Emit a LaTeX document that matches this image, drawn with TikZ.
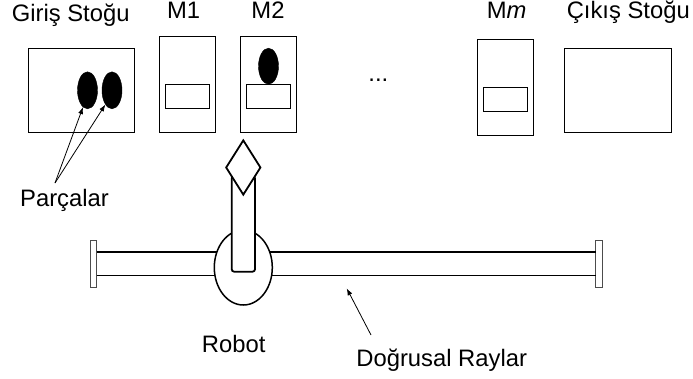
\documentclass[tikz,border=0pt]{standalone}
\usepackage{fontspec}
\setmainfont{Liberation Sans}
\usetikzlibrary{shapes.geometric,arrows.meta}
\begin{document}
\begin{tikzpicture}[x=1pt,y=-1pt,
  lbl/.style={font=\fontsize{23.8}{28}\selectfont, inner sep=0pt, anchor=base},
  station/.style={draw, line width=0.9pt, fill=white},
  slot/.style={draw, line width=0.9pt},
  part/.style={ellipse, fill=black, draw=black, inner sep=0pt, minimum width=20pt, minimum height=37pt},
  pointer/.style={line width=0.8pt, -{Latex[length=7pt,width=5pt]}},
  thick2/.style={line width=1.8pt}]
\useasboundingbox (0,0) rectangle (693,378);

% labels above the stations
\node[lbl] (tin)  at (70.7,21.5) {Giriş Stoğu};
\node[lbl] (tm1)  at (183.7,18.5) {M1};
\node[lbl] (tm2)  at (268,18.5) {M2};
\node[lbl] (tmm)  at (506.7,18.5) {M\textit{m}};
\node[lbl] (tout) at (628.3,18.5) {Çıkış Stoğu};
\node[lbl] (dots) at (378.3,81.5) {...};

% input store with two parts
\draw[station] (28,48) rectangle (134,132);
\node[part] (p1) at (87.5,90.3) {};
\node[part] (p2) at (112,90.3) {};

% machines
\draw[station] (159,36) rectangle (215,132);
\draw[slot] (165,84) rectangle (209,108);
\draw[station] (240,36) rectangle (296,132);
\draw[slot] (246,84) rectangle (290,108);
\node[part, minimum height=36pt] (p3) at (268.5,66.2) {};
\draw[station] (477.3,39.3) rectangle (533.7,135.3);
\draw[slot] (483.3,87.3) rectangle (527.7,111.3);

% output store
\draw[station] (564.3,48.3) rectangle (671,132.3);

% parts label with pointers
\node[lbl] (parc) at (64.5,206.7) {Parçalar};
\coordinate (fork) at (55,183);
\draw[pointer] (fork) -- (p1.255);
\draw[pointer] (fork) -- (p2.245);

% linear rails
\draw[line width=0.6pt, draw=black!70, fill=white] (90,240) rectangle (96.7,287.7);
\draw[line width=0.6pt, draw=black!70, fill=white] (595.7,240) rectangle (602.3,287.7);
\coordinate (rl1) at (96.7,251.7);
\coordinate (rr1) at (595.7,251.7);
\coordinate (rl2) at (96.7,275.7);
\coordinate (rr2) at (595.7,275.7);
\draw[line width=1.6pt] (rl1) -- (rr1);
\draw[line width=0.9pt] (rl2) -- (rr2);

% robot: carriage, arm and gripper
\node[ellipse, draw, line width=1.5pt, fill=white, inner sep=0pt,
      minimum width=58pt, minimum height=75pt] (base) at (243.3,267.5) {};
\draw[thick2, fill=white, rounded corners=2.5pt] (231.7,176) rectangle (255,271.7);
\node[diamond, draw, thick2, fill=white, inner sep=0pt, aspect=0.64,
      minimum width=35pt, minimum height=55pt] (grip) at (243.3,167.5) {};

\node[lbl] (robot) at (233.7,352.3) {Robot};

% rail label with pointer
\node[lbl] (rails) at (441.7,366.7) {Doğrusal Raylar};
\coordinate (rp) at (371,335);
\coordinate (rt) at (346.7,288.3);
\draw[pointer] (rp) -- (rt);
\end{tikzpicture}
\end{document}
